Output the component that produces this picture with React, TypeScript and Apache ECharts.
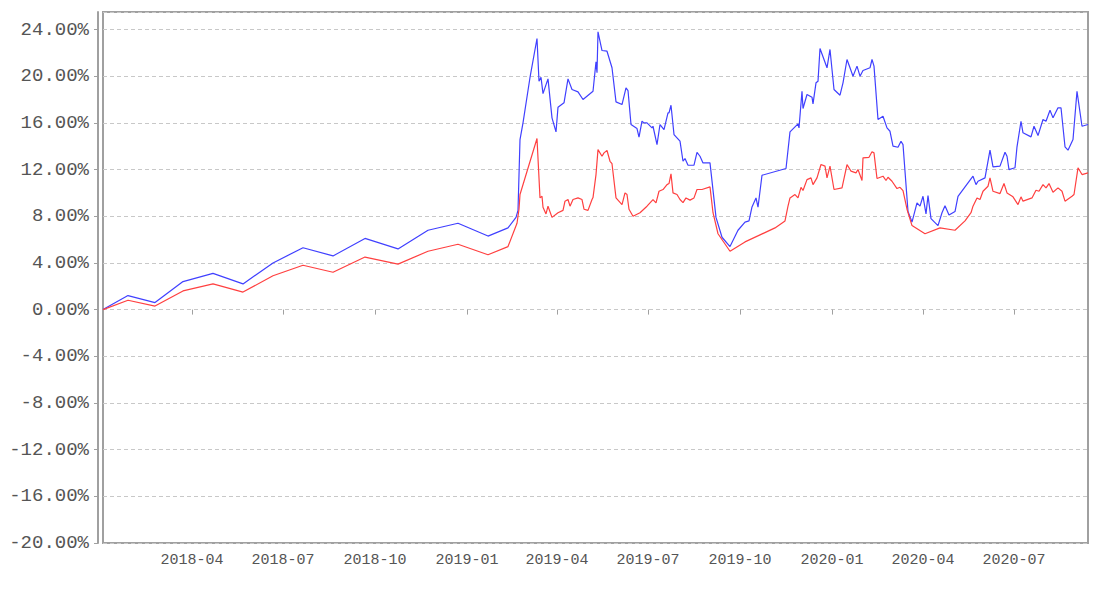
import { useEffect, useRef } from "react";
import * as echarts from "echarts";

const startDate = "2018-01-02";
const spanDays = 985;
const DAY = 86400000;

const yMin = -20;
const yMax = 25.5;
const yInterval = 4;

const blueName = "组合收益率";
const redName = "基准收益率";

const blueDays = [
  0, 25, 52, 80, 110, 140, 170, 200, 230, 262, 295, 325, 355, 385, 405, 413, 415,
  417, 420, 427, 434, 436, 438, 440, 445, 449, 453, 455, 461, 465, 469, 475, 480,
  490, 493, 494, 495, 499, 504, 509, 513, 519, 523, 525, 528, 534, 536, 539, 541,
  544, 549, 550, 554, 557, 561, 565, 566, 568, 571, 574, 577, 580, 582, 585, 591,
  594, 597, 600, 607, 613, 619, 627, 635, 642, 646, 649, 653, 655, 659, 683, 687,
  695, 696, 699, 700, 704, 709, 710, 713, 715, 717, 724, 727, 731, 737, 740, 744,
  747, 750, 754, 757, 760, 767, 769, 771, 775, 780, 784, 787, 790, 795, 798, 800,
  805, 809, 814, 817, 820, 823, 825, 828, 835, 839, 842, 846, 852, 855, 870, 873,
  875, 882, 887, 890, 897, 902, 904, 906, 912, 914, 918, 920, 928, 931, 935, 940,
  943, 947, 950, 955, 958, 962, 965, 970, 974, 979, 985,
];
const blueVals = [
  0.0, 1.2, 0.6, 2.4, 3.1, 2.2, 4.0, 5.3, 4.6, 6.1, 5.2, 6.8, 7.4, 6.3, 7.0, 7.9, 8.5,
  14.57, 16.0, 19.89, 23.23, 19.57, 19.91, 18.51, 19.77, 16.43, 15.23, 17.34, 17.72, 19.77, 18.86, 18.66, 18.0,
  18.71, 21.23, 20.29, 23.8, 22.2, 22.14, 20.72, 17.8, 17.57, 19.0, 18.77, 15.86, 15.51, 14.77, 16.14, 16.0,
  16.0, 15.57, 15.71, 14.14, 15.86, 15.43, 16.86, 16.86, 17.51, 15.0, 14.72, 14.43, 12.71, 12.94, 12.37, 12.37,
  13.48, 13.14, 12.57, 12.57, 7.9, 6.2, 5.4, 6.8, 7.5, 7.6, 8.8, 9.57, 8.77, 11.51, 12.09, 15.23,
  15.92, 15.57, 18.71, 17.23, 18.43, 18.2, 17.63, 19.43, 19.57, 22.37, 20.72, 22.29, 18.86, 18.37, 19.43, 21.43,
  20.72, 20.0, 20.86, 20.0, 20.49, 20.72, 21.43, 20.86, 16.29, 16.57, 15.57, 15.28, 14.0, 13.91, 14.43, 14.14,
  8.4, 7.5, 9.15, 8.86, 9.71, 8.2, 9.77, 7.8, 7.2, 8.3, 8.9, 8.1, 8.4, 9.71, 11.43, 10.71,
  11.0, 11.29, 13.66, 12.23, 12.29, 13.48, 13.14, 12.0, 12.15, 13.95, 16.14, 15.15, 14.8, 15.71, 14.91, 16.29,
  16.14, 17.08, 16.43, 17.29, 17.29, 13.95, 13.66, 14.57, 18.71, 15.71, 15.86,
];

const redDays = [
  0, 25, 52, 80, 110, 140, 170, 200, 230, 262, 295, 325, 355, 385, 405, 414, 416,
  417, 434, 437, 439, 440, 443, 445, 449, 455, 460, 462, 465, 467, 470, 475, 479,
  481, 485, 489, 490, 493, 495, 499, 501, 504, 507, 509, 513, 519, 522, 524, 526,
  530, 537, 544, 550, 553, 556, 560, 564, 566, 568, 570, 574, 577, 580, 583, 587,
  591, 594, 599, 607, 610, 615, 627, 642, 657, 672, 682, 685, 687, 692, 695, 698,
  700, 704, 708, 710, 714, 718, 722, 724, 727, 731, 739, 744, 748, 753, 755, 759,
  760, 766, 769, 771, 774, 780, 783, 785, 789, 794, 797, 800, 804, 809, 822, 837,
  852, 862, 868, 870, 874, 877, 880, 885, 887, 890, 897, 901, 904, 910, 915, 918,
  920, 929, 933, 936, 940, 943, 946, 950, 955, 959, 962, 969, 971, 975, 979, 985,
];
const redVals = [
  0.0, 0.8, 0.3, 1.6, 2.2, 1.5, 2.9, 3.8, 3.2, 4.5, 3.9, 5.0, 5.6, 4.7, 5.4, 7.4, 8.6,
  9.86, 14.66, 9.57, 9.71, 8.77, 8.2, 8.86, 7.9, 8.3, 8.5, 9.29, 9.43, 8.86, 9.43, 9.57, 9.43,
  8.6, 8.5, 9.43, 9.6, 11.57, 13.71, 13.14, 13.43, 13.63, 12.71, 12.5, 9.57, 9.0, 10.0, 9.86, 8.6,
  8.0, 8.3, 8.86, 9.43, 9.15, 10.14, 10.29, 10.71, 10.8, 11.63, 10.0, 9.86, 9.43, 9.17, 9.57, 9.38,
  9.57, 10.29, 10.29, 10.52, 8.3, 6.5, 5.0, 5.8, 6.4, 7.0, 7.6, 8.86, 9.57, 9.86, 9.57, 10.48,
  10.2, 11.14, 11.29, 10.71, 11.29, 12.43, 12.29, 11.29, 12.29, 10.29, 10.43, 12.43, 11.86, 11.72, 12.0, 11.06,
  13.0, 13.05, 13.52, 13.43, 11.23, 11.43, 11.06, 11.34, 11.0, 10.37, 10.48, 10.2, 8.6, 7.2, 6.5, 7.0,
  6.8, 7.6, 8.3, 8.86, 9.57, 9.43, 10.14, 10.57, 11.29, 10.14, 9.94, 10.8, 10.0, 9.66, 9.0, 9.66,
  9.29, 9.57, 10.23, 10.14, 10.71, 10.43, 10.8, 10.06, 10.43, 10.14, 9.29, 9.71, 9.86, 12.15, 11.57, 11.72,
];

const baseTime = new Date(startDate + "T00:00:00Z").getTime();
const toPairs = (days: number[], vals: number[]) =>
  days.map((d, i) => [baseTime + d * DAY, vals[i]]);

export default function App() {
  const ref = useRef<HTMLDivElement>(null);

  useEffect(() => {
    document.body.style.margin = "0";
    if (!ref.current) return;
    const chart = echarts.init(ref.current, undefined, { renderer: "svg" });
    chart.setOption({
      animation: false,
      backgroundColor: "#ffffff",
      grid: {
        left: 103,
        right: 16,
        top: 12,
        bottom: 56,
        show: true,
        borderColor: "#a0a0a0",
        borderWidth: 2,
        backgroundColor: "transparent",
      },
      xAxis: {
        type: "time",
        min: baseTime,
        max: baseTime + spanDays * DAY,
        axisLine: { show: false },
        axisTick: { show: true, lineStyle: { color: "#a0a0a0" } },
        splitLine: { show: false },
        axisLabel: {
          color: "#555",
          fontFamily: "Liberation Mono",
          fontSize: 15,
          margin: 10,
          formatter: (v: number) => {
            const d = new Date(v);
            const m = String(d.getUTCMonth() + 1).padStart(2, "0");
            return `${d.getUTCFullYear()}-${m}`;
          },
        },
      },
      yAxis: {
        type: "value",
        min: yMin,
        max: yMax,
        interval: yInterval,
        offset: 5,
        axisLine: { show: true, lineStyle: { color: "#a0a0a0", width: 2 } },
        axisTick: { show: true, length: 4, lineStyle: { color: "#a0a0a0" } },
        splitLine: {
          show: true,
          lineStyle: { color: "#c8c8c8", type: [4, 3], width: 1 },
        },
        axisLabel: {
          color: "#555",
          fontFamily: "Liberation Mono",
          fontSize: 19,
          margin: 9,
          showMaxLabel: false,
          formatter: (v: number) => v.toFixed(2) + "%",
        },
      },
      series: [
        {
          name: blueName,
          type: "line",
          data: toPairs(blueDays, blueVals),
          showSymbol: false,
          symbol: "none",
          lineStyle: { color: "#4040ff", width: 1.2 },
          itemStyle: { color: "#4040ff" },
        },
        {
          name: redName,
          type: "line",
          data: toPairs(redDays, redVals),
          showSymbol: false,
          symbol: "none",
          lineStyle: { color: "#ff4040", width: 1.2 },
          itemStyle: { color: "#ff4040" },
        },
      ],
    });
    return () => chart.dispose();
  }, []);

  return <div ref={ref} style={{ width: 1104, height: 599 }} />;
}
